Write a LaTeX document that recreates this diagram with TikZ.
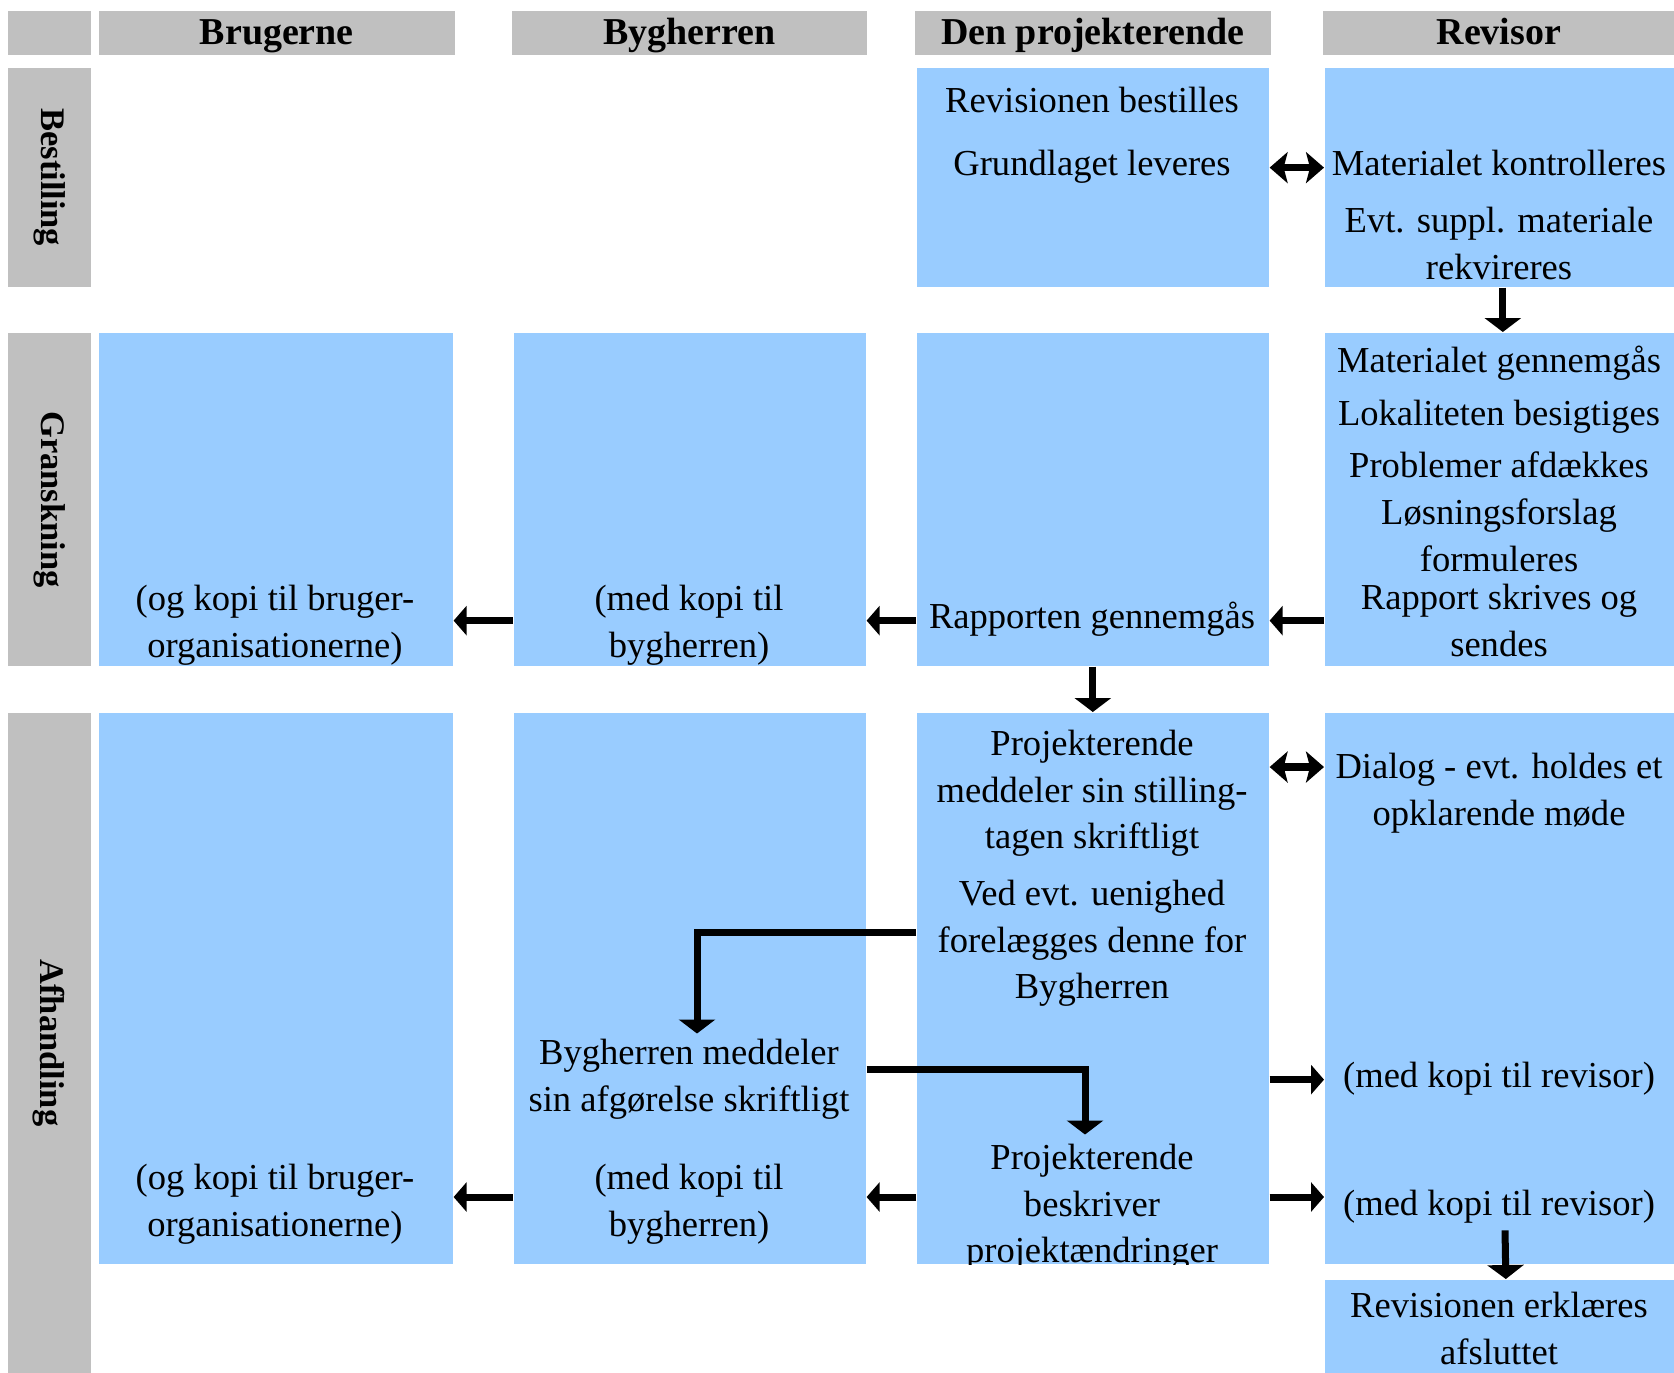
\documentclass[tikz,border=0pt]{standalone}
\usepackage{fontspec}
\setmainfont{Liberation Serif}
\usetikzlibrary{arrows.meta, positioning, calc}

\definecolor{hdrgray}{HTML}{C0C0C0}
\definecolor{cellblue}{HTML}{99CCFF}

\begin{document}
\begin{tikzpicture}[
    x=0.01cm, y=-0.01cm,
    font=\fontsize{10.4}{13.2}\selectfont,
    % Styles
    hdr/.style={
        fill=hdrgray, anchor=north west, inner sep=0pt,
        minimum height=0.44cm, text height=0.7em, text depth=0.02em,
        font=\fontsize{10.8}{13}\selectfont\bfseries
    },
    phase/.style={fill=hdrgray, anchor=north west, inner sep=0pt, minimum width=0.83cm},
    phasetext/.style={rotate=-90, font=\fontsize{9.8}{12}\selectfont\bfseries},
    cell/.style={fill=cellblue, anchor=north west, inner sep=0pt, minimum width=3.52cm},
    % text nodes sit on the baseline of their first line
    txt/.style={
        anchor=north, align=center, inner sep=0pt, yshift=0.325cm,
        execute at begin node=\strut
    },
    txtm/.style={
        anchor=north, align=center, inner sep=0pt, yshift=0.235cm,
        execute at begin node=\strut
    },
    arrow/.style={-{Triangle[width=0.29cm, length=0.13cm]}, line width=0.07cm},
    downarrow/.style={-{Triangle[width=0.36cm, length=0.14cm]}, line width=0.07cm},
    dblarrow/.style={
        {Stealth[width=0.31cm, length=0.18cm, inset=0.04cm]}-{Stealth[width=0.31cm, length=0.18cm, inset=0.04cm]},
        line width=0.075cm
    }
]

    \useasboundingbox (0,0) rectangle (1674,1372);

    % --- Header row ---
    \node[hdr, minimum width=0.83cm] (corner) at (7,10) {};
    \node[hdr, minimum width=3.56cm] (hBrug) at (98,10) {Brugerne};
    \node[hdr, minimum width=3.55cm] (hByg) at (511,10) {Bygherren};
    \node[hdr, minimum width=3.56cm] (hProj) at (914,10) {Den projekterende};
    \node[hdr, minimum width=3.52cm] (hRev) at (1322,10) {Revisor};

    % --- Phase labels ---
    \node[phase, minimum height=2.19cm] (best) at (7,67) {};
    \node[phasetext] (bestTxt) at (best.center) {Bestilling};
    \node[phase, minimum height=3.33cm] (gran) at (7,332) {};
    \node[phasetext] (granTxt) at (gran.center) {Granskning};
    \node[phase, minimum height=6.60cm] (afh) at (7,712) {};
    \node[phasetext] (afhTxt) at (afh.center) {Afhandling};

    % --- Row 1: Bestilling ---
    \node[cell, minimum height=2.19cm] (p1) at (916,67) {};
    \node[cell, minimum height=2.19cm, minimum width=3.50cm] (r1) at (1324,67) {};

    \node[txt] (bestil) at (1092,112) {Revisionen bestilles};
    \node[txt] (grund) at (1092,175) {Grundlaget leveres};
    \node[txt] (kontrol) at (1499,175) {Materialet kontrolleres};
    \node[txtm] (suppl) at (1499,230) {Evt. suppl. materiale\\rekvireres};

    % --- Row 2: Granskning ---
    \node[cell, minimum height=3.33cm, minimum width=3.54cm] (g2) at (98,332) {};
    \node[cell, minimum height=3.33cm] (b2) at (513,332) {};
    \node[cell, minimum height=3.33cm] (p2) at (916,332) {};
    \node[cell, minimum height=3.33cm, minimum width=3.50cm] (r2) at (1324,332) {};

    \node[txt] (gennem) at (1499,372) {Materialet gennemgås};
    \node[txt] (lokal) at (1499,425) {Lokaliteten besigtiges};
    \node[txt] (probl) at (1499,477) {Problemer afdækkes};
    \node[txtm] (loesn) at (1499,522) {Løsningsforslag\\formuleres};
    \node[txtm] (rapport) at (1499,607) {Rapport skrives og\\sendes};
    \node[txt] (rapgen) at (1092,628) {Rapporten gennemgås};
    \node[txtm] (kopiByg2) at (689,608) {(med kopi til\\bygherren)};
    \node[txtm] (kopiOrg2) at (275,608) {(og kopi til bruger-\\organisationerne)};

    % --- Row 3: Afhandling ---
    \node[cell, minimum height=5.51cm, minimum width=3.54cm] (g3) at (98,712) {};
    \node[cell, minimum height=5.51cm] (b3) at (513,712) {};
    \node[cell, minimum height=5.51cm] (p3) at (916,712) {};
    \node[cell, minimum height=5.51cm, minimum width=3.50cm] (r3) at (1324,712) {};
    \node[cell, minimum height=0.93cm, minimum width=3.50cm] (fin) at (1324,1279) {};

    \node[txtm] (stilling) at (1092,753) {Projekterende\\meddeler sin stilling-\\tagen skriftligt};
    \node[txtm] (uenig) at (1092,903) {Ved evt. uenighed\\forelægges denne for\\Bygherren};
    \node[txtm] (dialog) at (1499,776) {Dialog - evt. holdes et\\opklarende møde};
    \node[txtm] (afgoer) at (689,1062) {Bygherren meddeler\\sin afgørelse skriftligt};
    \node[txt] (kopiRev1) at (1499,1087) {(med kopi til revisor)};
    \node[txt] (kopiRev2) at (1499,1215) {(med kopi til revisor)};
    \node[txtm] (kopiByg3) at (689,1187) {(med kopi til\\bygherren)};
    \node[txtm] (kopiOrg3) at (275,1187) {(og kopi til bruger-\\organisationerne)};
    \node[txtm] (afslut) at (1499,1315) {Revisionen erklæres\\afsluttet};
    \begin{scope}
        \clip (p3.north west) rectangle (p3.south east);
        \node[txtm] (beskriv) at (1092,1167) {Projekterende\\beskriver\\projektændringer};
    \end{scope}

    % --- Connections ---
    \coordinate (dialogY) at (0,767);
    \coordinate (uenigY) at (0,932);
    \coordinate (afgoerY) at (0,1069);
    \coordinate (row3Y) at (0,1197);

    \draw[dblarrow] (p1.east |- grund.mid) -- (r1.west |- grund.mid);
    \draw[downarrow] ([xshift=0.03cm]r1.south) -- ([xshift=0.03cm]r2.north);

    \draw[arrow] (r2.west |- rapgen.mid) -- (p2.east |- rapgen.mid);
    \draw[arrow] (p2.west |- rapgen.mid) -- (b2.east |- rapgen.mid);
    \draw[arrow] (b2.west |- rapgen.mid) -- (g2.east |- rapgen.mid);
    \draw[downarrow] (p2.south) -- (p3.north);

    \draw[dblarrow] (p3.east |- dialogY) -- (r3.west |- dialogY);
    \draw[downarrow, shorten >=0.05cm] (p3.west |- uenigY) -| ([xshift=0.08cm]afgoer.north);
    \draw[downarrow, shorten >=0.09cm] (b3.east |- afgoerY) -| ([xshift=-0.07cm]beskriv.north);
    \draw[arrow] (p3.east |- kopiRev1.mid) -- (r3.west |- kopiRev1.mid);
    \draw[arrow] (p3.east |- row3Y) -- (r3.west |- row3Y);
    \draw[arrow] (p3.west |- row3Y) -- (b3.east |- row3Y);
    \draw[arrow] (b3.west |- row3Y) -- (g3.east |- row3Y);
    \draw[downarrow] ([xshift=0.06cm]kopiRev2.south) -- ([xshift=0.06cm]fin.north);

\end{tikzpicture}
\end{document}
